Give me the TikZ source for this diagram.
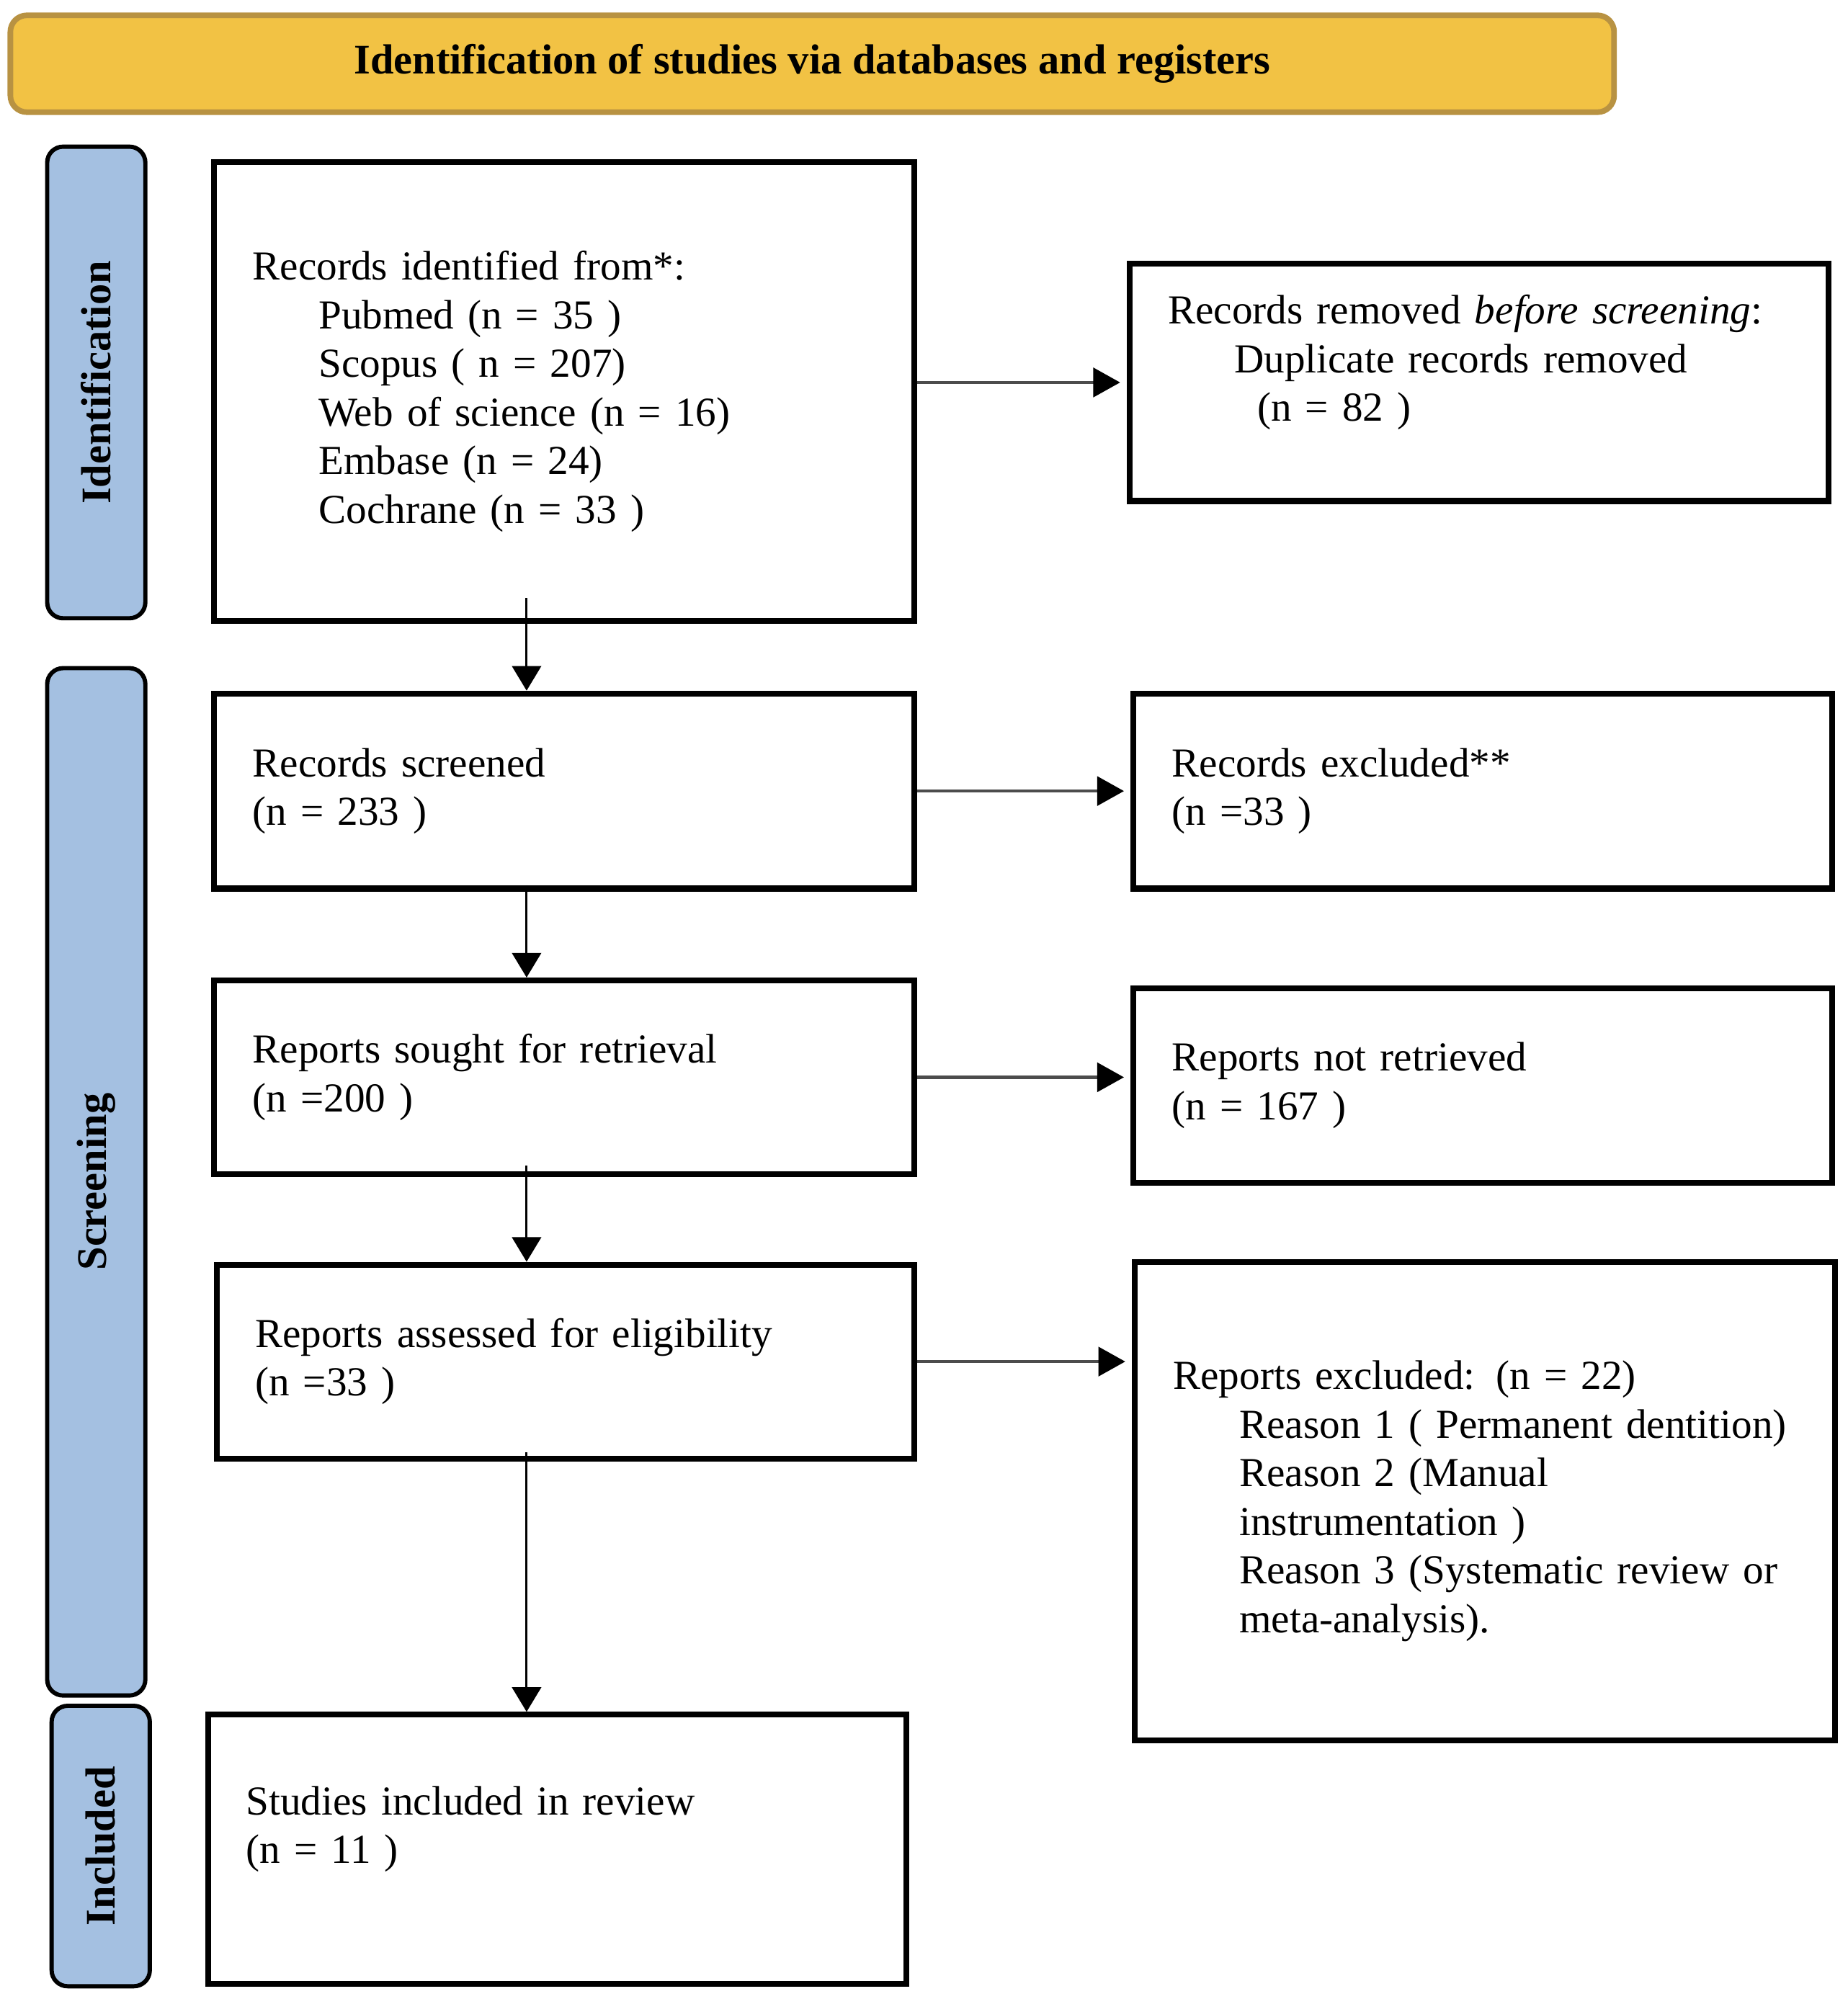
\documentclass[tikz,border=0pt]{standalone}
\usepackage{fontspec}
\setmainfont{Liberation Serif}
\usetikzlibrary{arrows.meta,positioning,calc}

\definecolor{headgold}{HTML}{F2C244}
\definecolor{headedge}{HTML}{B89242}
\definecolor{phaseblue}{HTML}{A4C0E1}

\begin{document}
\begin{tikzpicture}[x=0.02cm, y=-0.02cm,
    txt/.style={font=\fontsize{18.4pt}{21.7pt}\selectfont},
    recbox/.style={txt, draw, line width=2.6pt, align=left, inner xsep=0pt, inner ysep=0pt},
    phase/.style={draw, line width=1.9pt, fill=phaseblue, rounded corners=0.25cm, rotate=90,
        font=\fontsize{18.8pt}{21.7pt}\selectfont\bfseries},
    downarr/.style={-{Triangle[width=13pt,length=11pt]}, line width=1pt},
    sidearr/.style={-{Triangle[width=13pt,length=12pt,color=black]}, line width=1.4pt, black!70, shorten >=3pt}]
    \useasboundingbox (0,0) rectangle (1449,1568);

    % Header
    \node[draw=headedge, line width=2.5pt, fill=headgold, rounded corners=0.26cm,
        minimum width=25.16cm, minimum height=1.52cm,
        font=\fontsize{18.8pt}{21.7pt}\selectfont\bfseries] (head) at (637,50)
        {Identification of studies via databases and registers};

    % Phase bars
    \foreach \name/\x/\y/\len/\lab in {idphase/75.5/300/7.4cm/Identification,
        scrphase/75.5/927/16.12cm/Screening, incphase/79/1448/4.4cm/Included} {
        \node[phase, minimum width=\len, minimum height=1.54cm] (\name) at (\x,\y) {\lab};
    }

    % Left column
    \node[recbox, minimum width=10.98cm, minimum height=7.2cm, text width=9.78cm] (ident) at (442.5,307)
        {Records identified from*:\\
        \hspace*{1.04cm}Pubmed (n = 35 )\\
        \hspace*{1.04cm}Scopus ( n = 207)\\
        \hspace*{1.04cm}Web of science (n = 16)\\
        \hspace*{1.04cm}Embase (n = 24)\\
        \hspace*{1.04cm}Cochrane (n = 33 )};
    \node[recbox, minimum width=10.98cm, minimum height=3.06cm, text width=9.78cm] (scr) at (442.5,620.5)
        {Records screened\\(n = 233 )};
    \node[recbox, minimum width=10.98cm, minimum height=3.04cm, text width=9.78cm] (sought) at (442.5,845)
        {Reports sought for retrieval\\(n =200 )};
    \node[recbox, minimum width=10.94cm, minimum height=3.04cm, text width=9.74cm] (elig) at (443.5,1068)
        {Reports assessed for eligibility\\(n =33 )};
    \node[recbox, minimum width=10.96cm, minimum height=4.22cm, text width=9.76cm] (incl) at (437,1450.5)
        {Studies included in review\\(n = 11 )\\ \mbox{}};

    % Right column
    \node[recbox, minimum width=10.96cm, minimum height=3.72cm, text width=9.76cm] (dup) at (1160,300)
        {Records removed \textit{before screening}:\\
        \hspace*{1.04cm}Duplicate records removed\\
        \hspace*{1.4cm}(n = 82 )\\ \mbox{}};
    \node[recbox, minimum width=10.96cm, minimum height=3.06cm, text width=9.76cm] (exc) at (1163,620.5)
        {Records excluded**\\(n =33 )};
    \node[recbox, minimum width=10.96cm, minimum height=3.06cm, text width=9.76cm] (notret) at (1163,851.5)
        {Reports not retrieved\\(n = 167 )};
    \node[recbox, minimum width=10.98cm, minimum height=7.5cm, text width=9.78cm] (rexc) at (1164.5,1177.5)
        {Reports excluded: (n = 22)\\
        \hspace*{1.04cm}Reason 1 ( Permanent dentition)\\
        \hspace*{1.04cm}Reason 2 (Manual\\
        \hspace*{1.04cm}instrumentation )\\
        \hspace*{1.04cm}Reason 3 (Systematic review or\\
        \hspace*{1.04cm}meta-analysis).};

    % Arrows
    \coordinate (spine) at (413,0);
    \foreach \a/\b/\s in {ident/scr/0.4cm, scr/sought/0.1cm, sought/elig/0.18cm, elig/incl/0.14cm} {
        \draw[downarr, shorten <=-\s] (\a.south -| spine) -- (\b.north -| spine);
    }
    \draw[sidearr] (ident.east |- dup.west) -- (dup.west);
    \foreach \a/\b in {scr/exc, sought/notret, elig/rexc} {
        \draw[sidearr] (\a.east) -- (\b.west |- \a.east);
    }
\end{tikzpicture}
\end{document}
